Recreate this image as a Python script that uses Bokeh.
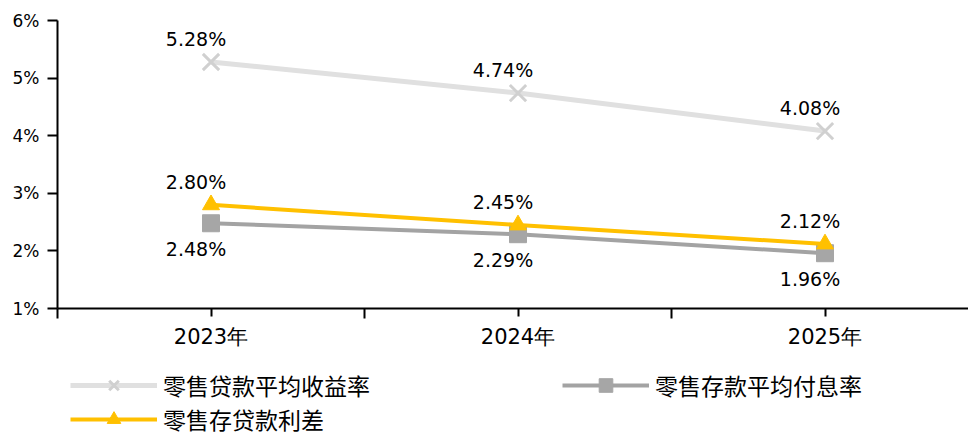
from bokeh.plotting import figure
from bokeh.layouts import column
from bokeh.models import (ColumnDataSource, FixedTicker, Legend, LegendItem, Range1d)
from bokeh.core.properties import value
from bokeh.embed import file_html
from bokeh.resources import INLINE

years = ["2023年", "2024年", "2025年"]
loan_yield = [5.28, 4.74, 4.08]
deposit_cost = [2.48, 2.29, 1.96]
spread = [2.80, 2.45, 2.12]
names = ["零售贷款平均收益率", "零售存款平均付息率", "零售存贷款利差"]
y_ticks = [1, 2, 3, 4, 5, 6]

xs = list(range(len(years)))

p = figure(width=968, height=364, output_backend="svg", toolbar_location=None,
           x_range=Range1d(-0.5, -0.5 + 911 / 307), y_range=Range1d(1, 6),
           min_border_left=57, min_border_right=0, min_border_top=20,
           min_border_bottom=56)
p.outline_line_color = None
p.grid.grid_line_color = None

# axes
p.xaxis.ticker = FixedTicker(ticks=xs, minor_ticks=[x - 0.5 for x in xs] + [xs[-1] + 0.5])
p.xaxis.major_label_overrides = {i: y for i, y in enumerate(years)}
p.yaxis.ticker = FixedTicker(ticks=y_ticks)
p.yaxis.major_label_overrides = {t: f"{t}%" for t in y_ticks}
for ax in (p.xaxis, p.yaxis):
    ax.axis_line_color = "black"
    ax.axis_line_width = 2
    ax.major_tick_line_color = "black"
    ax.major_tick_line_width = 2
    ax.major_tick_in = 0
    ax.major_label_text_font = "DejaVu Sans"
    ax.major_label_text_color = "black"
p.xaxis.major_tick_out = 8
p.xaxis.minor_tick_out = 10
p.xaxis.minor_tick_in = 0
p.xaxis.minor_tick_line_color = "black"
p.xaxis.minor_tick_line_width = 2
p.xaxis.major_label_text_font_size = "21px"
p.xaxis.major_label_standoff = 6
p.yaxis.major_tick_out = 10
p.yaxis.minor_tick_line_color = None
p.yaxis.major_label_text_font_size = "17px"
p.yaxis.major_label_standoff = 8

series = [
    (loan_yield, "#e0e0e0", "#d0d0d0", "x", 23, 5, "above"),
    (deposit_cost, "#a3a3a3", "#a6a6a6", "square", 17, 4, "below"),
    (spread, "#ffc000", "#ffc000", "triangle", 17, 4, "above"),
]

# legend strip (separate figure so the legend is not clipped by the chart frame)
lg = figure(width=968, height=72, output_backend="svg", toolbar_location=None,
            x_range=Range1d(0, 1), y_range=Range1d(0, 1),
            x_axis_type=None, y_axis_type=None,
            min_border_left=0, min_border_right=0, min_border_top=0, min_border_bottom=0)
lg.outline_line_color = None
lg.grid.grid_line_color = None

items = []
for (vals, lc, mc, mk, ms, lw, pos), name in zip(series, names):
    src = ColumnDataSource(dict(x=xs, y=vals, t=[f"{v:.2f}%" for v in vals]))
    p.line("x", "y", source=src, line_color=lc, line_width=lw)
    if mk == "x":
        p.scatter("x", "y", source=src, marker="x", size=ms, line_color=mc, line_width=3)
    else:
        p.scatter("x", "y", source=src, marker=mk, size=ms, fill_color=mc, line_color=mc)
    p.text("x", "y", text="t", source=src, text_font=value("DejaVu Sans"),
           text_font_size="19px", text_color="black", text_align="center",
           text_baseline="middle", x_offset=-15,
           y_offset=(-23 if pos == "above" else 26))
    # legend-only renderers, placed outside the legend strip's visible range
    off = ColumnDataSource(dict(x=[-5], y=[-5]))
    l1 = lg.line("x", "y", source=off, line_color=lc, line_width=lw)
    if mk == "x":
        l2 = lg.scatter("x", "y", source=off, marker="x", size=ms, line_color=mc, line_width=3)
    else:
        l2 = lg.scatter("x", "y", source=off, marker=mk, size=ms, fill_color=mc, line_color=mc)
    items.append(LegendItem(label=name, renderers=[l1, l2]))

common = dict(glyph_width=87, glyph_height=34, label_height=22, label_standoff=6,
              padding=0, margin=0, spacing=0, border_line_color=None,
              background_fill_alpha=0, label_text_font="Noto Sans CJK SC",
              label_text_font_size="23px", label_text_color="black")
leg_a = Legend(items=[items[0], items[2]], location=(13, 0), **common)
leg_b = Legend(items=[items[1]], location=(505, 34), **common)
lg.add_layout(leg_a, "center")
lg.add_layout(leg_b, "center")

layout = column(p, lg, spacing=0)
open("out.html", "w").write(file_html(layout, INLINE))
